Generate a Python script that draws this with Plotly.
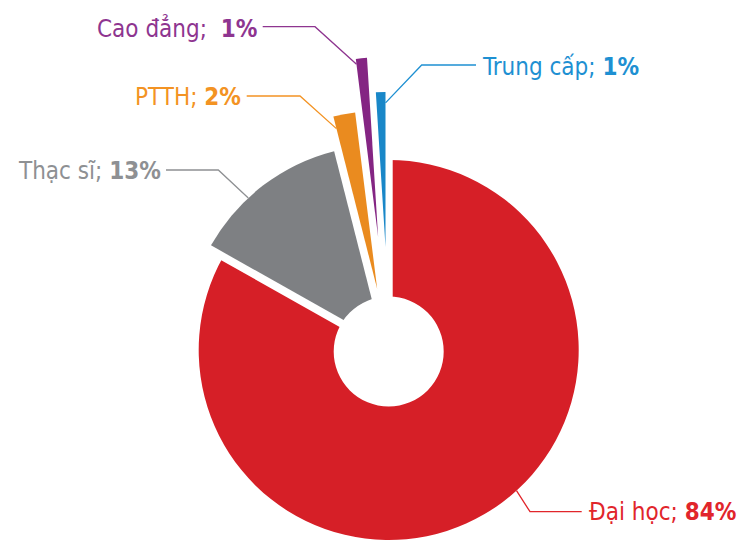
import math
import plotly.graph_objects as go

W, H = 747, 540

# Education levels, clockwise from 12 o'clock
categories = ["Đại học", "Thạc sĩ", "PTTH", "Cao đẳng", "Trung cấp"]
shares = [84, 13, 2, 1, 1]
share_labels = ["84%", "13%", "2%", "1%", "1%"]

# ---- styling -------------------------------------------------------------
slice_colors = ["#D61F27", "#7E8083", "#EA8B1F", "#842583", "#1987C8"]
text_colors = ["#E1252B", "#8E9093", "#F39323", "#8E3590", "#1E90D2"]
explode_px = [0, 10, 62, 113, 103]       # push-out distance of each wedge
radius_px = [190, 197, 178, 180, 155]    # wedge radius
origin = (388.7, 350.0)                  # common pie centre (px, y down)
hole = (388.7, 351.5, 55.0)              # white centre disc (cx, cy, r)
gap_px = 8                               # white gutter along the main wedge's straight edges

# leader lines: where on the wedge they start (fraction of the wedge's angle,
# fraction of its radius), the elbow, the end of the horizontal run, and the label
leaders = [
    dict(frac=0.46, rf=1.00, elbow=(530, 511.7), end=(581.7, 511.7), tx=587, ty=511.7, side="left"),
    dict(frac=0.38, rf=1.00, elbow=(218.3, 170), end=(166, 170), tx=163, ty=170.5, side="right"),
    dict(frac=0.00, rf=0.93, elbow=(300, 96), end=(246.7, 96), tx=243, ty=97, side="right"),
    dict(frac=0.00, rf=0.97, elbow=(315, 26.7), end=(262.7, 26.7), tx=259, ty=28.5, side="right"),
    dict(frac=1.00, rf=0.93, elbow=(421.7, 65), end=(476, 65), tx=480, ty=67, side="left"),
]
label_gap = [" ", " ", " ", "\u00a0\u00a0", " "]
FONT = "DejaVu Sans Condensed, Liberation Sans Narrow, Roboto Condensed, sans-serif"
FONT_SIZE = 24


def px_to_paper(x, y):
    return x / W, 1 - y / H


def unit(theta_deg):
    t = math.radians(theta_deg)
    return math.sin(t), -math.cos(t)


def pie_domain(cx, cy, r):
    return dict(
        x=[max(0.0, (cx - r) / W), min(1.0, (cx + r) / W)],
        y=[max(0.0, (H - cy - r) / H), min(1.0, (H - cy + r) / H)],
    )


total = sum(shares)
starts, spans = [], []
acc = 0.0
for v in shares:
    starts.append(acc / total * 360)
    spans.append(v / total * 360)
    acc += v


def wedge_trace(i, cx, cy, r):
    colors = ["rgba(0,0,0,0)"] * len(categories)
    colors[i] = slice_colors[i]
    return go.Pie(
        values=shares, labels=categories, sort=False,
        direction="clockwise", rotation=0,
        marker=dict(colors=colors, line=dict(width=0)),
        textinfo="none", hoverinfo="skip", showlegend=False,
        domain=pie_domain(cx, cy, r),
    )


fig = go.Figure()
centres = []
for i in range(len(categories)):
    ux, uy = unit(starts[i] + spans[i] / 2)
    centres.append((origin[0] + explode_px[i] * ux, origin[1] + explode_px[i] * uy))

# main wedge first
fig.add_trace(wedge_trace(0, *centres[0], radius_px[0]))

# white gutter along the main wedge's two straight edges
fig.add_trace(go.Pie(
    values=[shares[0], total - shares[0]], sort=False,
    direction="clockwise", rotation=0,
    marker=dict(colors=["rgba(0,0,0,0)", "rgba(0,0,0,0)"],
                line=dict(color="white", width=[0, gap_px])),
    textinfo="none", hoverinfo="skip", showlegend=False,
    domain=pie_domain(*centres[0], radius_px[0]),
))

# exploded wedges on top
for i in range(1, len(categories)):
    fig.add_trace(wedge_trace(i, *centres[i], radius_px[i]))

shapes = []
hx, hy, hr = hole
shapes.append(dict(type="circle", xref="paper", yref="paper",
                   x0=(hx - hr) / W, x1=(hx + hr) / W,
                   y0=1 - (hy + hr) / H, y1=1 - (hy - hr) / H,
                   fillcolor="white", line=dict(width=0)))

annotations = []
for i, ld in enumerate(leaders):
    cx, cy = centres[i]
    ux, uy = unit(starts[i] + ld["frac"] * spans[i])
    ax = cx + ld["rf"] * radius_px[i] * ux
    ay = cy + ld["rf"] * radius_px[i] * uy
    pts = [px_to_paper(ax, ay), px_to_paper(*ld["elbow"]), px_to_paper(*ld["end"])]
    path = "M {:.5f},{:.5f} L {:.5f},{:.5f} L {:.5f},{:.5f}".format(*pts[0], *pts[1], *pts[2])
    shapes.append(dict(type="path", xref="paper", yref="paper", path=path,
                       line=dict(color=text_colors[i], width=1.3)))
    tx, ty = px_to_paper(ld["tx"], ld["ty"])
    annotations.append(dict(
        x=tx, y=ty, xref="paper", yref="paper",
        xanchor=ld["side"], yanchor="middle", showarrow=False,
        text=f"{categories[i]};{label_gap[i]}<b>{share_labels[i]}</b>",
        font=dict(family=FONT, size=FONT_SIZE, color=text_colors[i]),
    ))

fig.update_layout(
    width=W, height=H,
    margin=dict(l=0, r=0, t=0, b=0),
    paper_bgcolor="white", plot_bgcolor="white",
    shapes=shapes, annotations=annotations,
)

fig.write_html("out.html")
